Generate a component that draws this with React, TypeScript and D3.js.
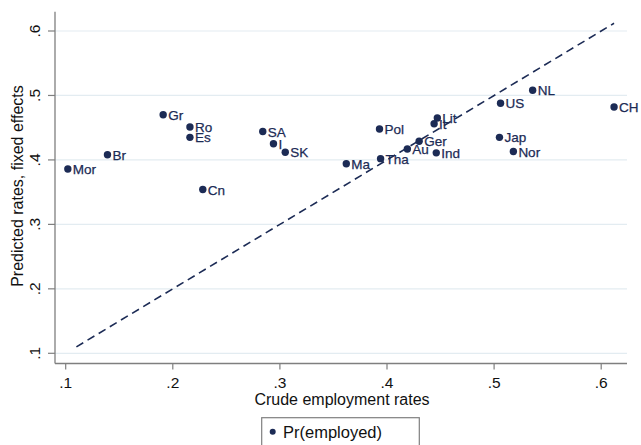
import React from "react";
import * as d3 from "d3";

const countries = ["Mor", "Br", "Gr", "Ro", "Es", "Cn", "SA", "I", "SK", "Ma", "Tha", "Pol", "Au", "Ger", "Ind", "It", "Lit", "NL", "US", "CH", "Jap", "Nor"];
const crudeRates = [0.102, 0.139, 0.191, 0.216, 0.216, 0.228, 0.284, 0.294, 0.305, 0.362, 0.394, 0.393, 0.419, 0.430, 0.446, 0.444, 0.447, 0.536, 0.506, 0.612, 0.505, 0.518];
const predictedRates = [0.386, 0.408, 0.470, 0.451, 0.435, 0.354, 0.444, 0.425, 0.412, 0.394, 0.402, 0.448, 0.417, 0.429, 0.411, 0.456, 0.465, 0.508, 0.488, 0.482, 0.435, 0.413];
const xTicks = [0.1, 0.2, 0.3, 0.4, 0.5, 0.6];
const yTicks = [0.1, 0.2, 0.3, 0.4, 0.5, 0.6];
const diagonal = [0.11, 0.612];

const W = 641;
const H = 445;
const FONT = "'Liberation Sans', Arial, sans-serif";
const NAVY = "#1c2b55";
const AXIS = "#7f7f7f";
const GRID = "#e3ecf1";

export default function App() {
  const x = d3.scaleLinear().domain([0.1, 0.6]).range([65.7, 601.2]);
  const y = d3.scaleLinear().domain([0.1, 0.6]).range([353.3, 31]);
  const left = 55;
  const right = 627;
  const top = 11.7;
  const bottom = 363.5;
  const fmt = (v: number) => d3.format(".1f")(v).replace(/^0/, "");
  const line = d3.line<number>().x((d) => x(d)).y((d) => y(d));

  return (
    <svg width={W} height={H} style={{ position: "absolute", left: 0, top: 0, background: "#fff" }} fontFamily={FONT}>
      <rect x={0} y={0} width={W} height={H} fill="#fff" />
      {yTicks.map((t) => (
        <line key={"g" + t} x1={left} x2={right} y1={y(t)} y2={y(t)} stroke={GRID} strokeWidth={1.2} />
      ))}
      <line x1={left} x2={left} y1={top} y2={bottom} stroke={AXIS} strokeWidth={1.3} />
      <line x1={left} x2={right} y1={bottom} y2={bottom} stroke={AXIS} strokeWidth={1.3} />
      {yTicks.map((t) => (
        <g key={"y" + t}>
          <line x1={left - 7} x2={left} y1={y(t)} y2={y(t)} stroke={AXIS} strokeWidth={1.2} />
          <text transform={`translate(40,${y(t)}) rotate(-90)`} textAnchor="middle" fontSize={15.5} fill="#111">{fmt(t)}</text>
        </g>
      ))}
      {xTicks.map((t) => (
        <g key={"x" + t}>
          <line x1={x(t)} x2={x(t)} y1={bottom} y2={bottom + 6} stroke={AXIS} strokeWidth={1.2} />
          <text x={x(t)} y={388} textAnchor="middle" fontSize={15.5} fill="#111">{fmt(t)}</text>
        </g>
      ))}
      <text x={342} y={405} textAnchor="middle" fontSize={16} fill="#111">Crude employment rates</text>
      <text transform={`translate(23,186) rotate(-90)`} textAnchor="middle" fontSize={16} fill="#111">Predicted rates, fixed effects</text>
      <path d={line(diagonal) || ""} fill="none" stroke={NAVY} strokeWidth={1.6} strokeDasharray="8,5" />
      {countries.map((c, i) => (
        <g key={c}>
          <circle cx={x(crudeRates[i])} cy={y(predictedRates[i])} r={3.7} fill={NAVY} />
          <text x={x(crudeRates[i]) + 5} y={y(predictedRates[i]) + 5} fontSize={13.5} fill={NAVY} stroke={NAVY} strokeWidth={0.25}>{c}</text>
        </g>
      ))}
      <rect x={261.7} y={417.7} width={157.6} height={40} fill="#fff" stroke={AXIS} strokeWidth={1.2} />
      <circle cx={272.7} cy={431.7} r={3} fill={NAVY} />
      <text x={283} y={438} fontSize={16.5} fill="#111">Pr(employed)</text>
    </svg>
  );
}
